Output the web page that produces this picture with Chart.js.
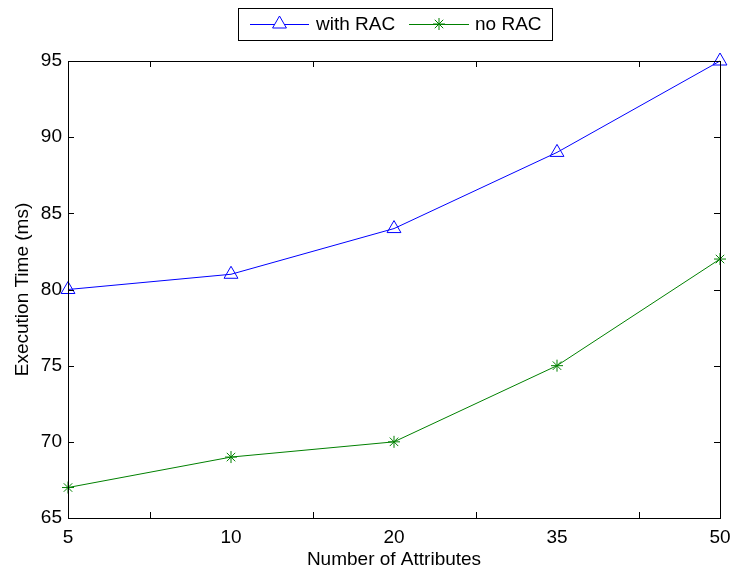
<!DOCTYPE html>
<html><head><meta charset="utf-8">
<script src="https://cdn.jsdelivr.net/npm/chart.js@4.4.1/dist/chart.umd.min.js"></script>
<style>html,body{margin:0;padding:0;background:#fff}#wrap{width:733px;height:574px}</style>
</head><body><div id="wrap"><canvas id="c" width="733" height="574"></canvas></div>
<script>
const categories = ["5", "10", "20", "35", "50"];
const withRAC = [80, 81, 84, 89, 95];
const noRAC = [67, 69, 70, 75, 82];
const yTicks = [65, 70, 75, 80, 85, 90, 95];
const seriesNames = ["with RAC", "no RAC"];
const xTitle = "Number of Attributes";
const yTitle = "Execution Time (ms)";

const FONT = "'Liberation Sans', Arial, Helvetica, sans-serif";
const FS = 19;
const BLUE = "rgb(0,0,255)", GREEN = "rgb(0,128,0)";

const framePlugin = {
  id: 'frame',
  afterDraw(chart) {
    const ctx = chart.ctx, a = chart.chartArea;
    const xs = chart.scales.x, ys = chart.scales.y;
    ctx.save();
    ctx.strokeStyle = '#000'; ctx.lineWidth = 1;
    ctx.strokeRect(Math.round(a.left)+0.5, Math.round(a.top)+0.5, Math.round(a.right-a.left), Math.round(a.bottom-a.top));
    ctx.beginPath();
    const L = 6;
    for (let i = 0; i < categories.length - 1; i++) {
      const px = Math.round(xs.getPixelForValue(i + 0.5)) + 0.5;
      ctx.moveTo(px, a.bottom); ctx.lineTo(px, a.bottom - L);
      ctx.moveTo(px, a.top); ctx.lineTo(px, a.top + L);
    }
    yTicks.forEach(v => {
      const py = Math.round(ys.getPixelForValue(v)) + 0.5;
      ctx.moveTo(a.left, py); ctx.lineTo(a.left + L, py);
      ctx.moveTo(a.right, py); ctx.lineTo(a.right - L, py);
    });
    ctx.stroke();
    // legend box
    const bx = 238.5, by = 8.5, bw = 314, bh = 32;
    ctx.fillStyle = '#fff';
    ctx.fillRect(bx, by, bw, bh);
    ctx.strokeRect(bx, by, bw, bh);
    const cy = 24;
    const items = [
      {x0: 250, x1: 309, color: BLUE, style: 'triangle', tx: 316, name: seriesNames[0]},
      {x0: 409, x1: 469, color: GREEN, style: 'star', tx: 475, name: seriesNames[1]}
    ];
    ctx.font = FS + "px " + FONT;
    ctx.textBaseline = 'middle';
    items.forEach(it => {
      ctx.strokeStyle = it.color; ctx.lineWidth = 1;
      ctx.beginPath(); ctx.moveTo(it.x0, cy + 0.5); ctx.lineTo(it.x1, cy + 0.5); ctx.stroke();
      Chart.helpers.drawPoint(ctx, {pointStyle: it.style, radius: it.style === 'star' ? 6 : 8, borderWidth: 1, rotation: 0}, (it.x0 + it.x1) / 2, cy);
      ctx.fillStyle = '#000';
      ctx.fillText(it.name, it.tx, cy + 1);
    });
    ctx.restore();
  }
};

new Chart(document.getElementById('c'), {
  type: 'line',
  data: {
    datasets: [
      {label: seriesNames[0], data: withRAC.map((v, i) => ({x: i, y: v})), borderColor: BLUE, backgroundColor: 'rgba(0,0,0,0)', borderWidth: 1,
       pointStyle: 'triangle', pointRadius: 8, pointBorderColor: BLUE, pointBackgroundColor: 'rgba(0,0,0,0)', pointBorderWidth: 1, clip: false, tension: 0},
      {label: seriesNames[1], data: noRAC.map((v, i) => ({x: i, y: v})), borderColor: GREEN, backgroundColor: 'rgba(0,0,0,0)', borderWidth: 1,
       pointStyle: 'star', pointRadius: 6, pointBorderColor: GREEN, pointBackgroundColor: 'rgba(0,0,0,0)', pointBorderWidth: 1, clip: false, tension: 0}
    ]
  },
  options: {
    responsive: false, animation: false, devicePixelRatio: 1,
    layout: {padding: {top: 61, right: 13, left: 0, bottom: 0}},
    plugins: {legend: {display: false}, tooltip: {enabled: false}},
    scales: {
      x: {
        type: 'linear', min: 0, max: categories.length - 1,
        afterBuildTicks: s => { s.ticks = categories.map((c, i) => ({value: i})); },
        ticks: {callback: (v) => categories[v], color: '#000', font: {family: FONT, size: FS}, padding: 8, maxRotation: 0, autoSkip: false},
        grid: {display: false, drawTicks: false}, border: {display: false},
        title: {display: true, text: xTitle, color: '#000', font: {family: FONT, size: FS}, padding: {top: 0, bottom: 3}},
        afterFit: s => { s.height = 56; s.paddingLeft = 0; s.paddingRight = 0; }
      },
      y: {
        min: 65, max: 95,
        afterBuildTicks: s => { s.ticks = yTicks.map(v => ({value: v})); },
        ticks: {color: '#000', font: {family: FONT, size: FS}, padding: 6},
        grid: {display: false, drawTicks: false}, border: {display: false},
        title: {display: true, text: yTitle, color: '#000', font: {family: FONT, size: FS}, padding: {top: 11, bottom: 0}},
        afterFit: s => { s.width = 68; s.paddingTop = 0; s.paddingBottom = 0; }
      }
    }
  },
  plugins: [framePlugin]
});
</script>
</body></html>
